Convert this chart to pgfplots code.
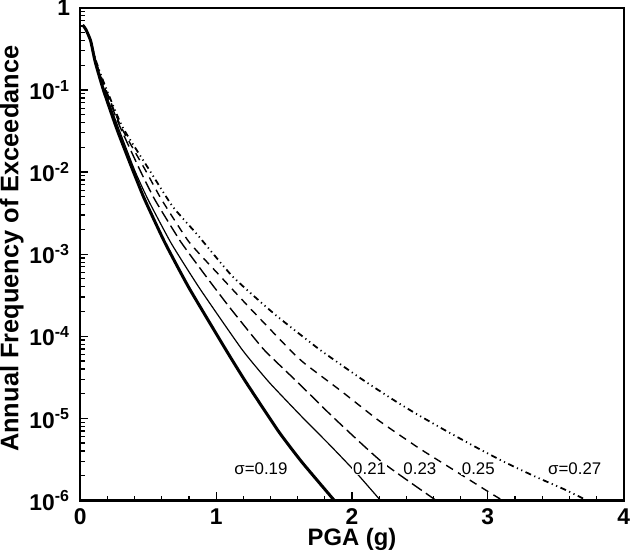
\documentclass[border=0pt]{standalone}
\usepackage{pgfplots}
\pgfplotsset{compat=1.18}
\usepackage{fontspec}
\setmainfont{Liberation Sans}
\begin{document}
\begin{tikzpicture}
\begin{axis}[
  scale only axis,
  width=273bp, height=247.5bp,
  ymode=log,
  xmin=0, xmax=4, ymin=1e-6, ymax=1,
  xtick={0,1,2,3,4},
  minor x tick num=4,
  ytick={1e-6,1e-5,1e-4,1e-3,1e-2,1e-1,1},
  yticklabels={10\textsuperscript{-6},10\textsuperscript{-5},10\textsuperscript{-4},10\textsuperscript{-3},10\textsuperscript{-2},10\textsuperscript{-1},1},
  xticklabels={0,1,2,3,4},
  tick pos=left,
  tick align=inside,
  major tick length=4bp,
  minor tick length=2.2bp,
  axis line style={line width=1.1bp},
  every tick/.style={black, line width=0.6bp},
  ticklabel style={font=\fontsize{11.5}{13}\selectfont\bfseries, inner sep=0pt},
  yticklabel style={xshift=-5bp},
  xticklabel style={yshift=-4bp},
  xlabel={PGA (g)},
  ylabel={Annual Frequency of Exceedance},
  xlabel style={font=\fontsize{12}{14}\selectfont\bfseries, inner sep=0pt, at={(axis description cs:0.5,-0.079)}, anchor=center},
  ylabel style={font=\fontsize{12.8}{14}\selectfont\bfseries, inner sep=0pt, at={(axis description cs:-0.126,0.511)}, anchor=center},
  clip=true,
]
% sigma = 0.19 (thick solid)
\addplot[black, line width=1.5bp, smooth, tension=0.3] coordinates {
(0.018,0.617) (0.04,0.550) (0.076,0.398) (0.11,0.219) (0.17,0.1)
(0.27,0.0331) (0.38,0.0112) (0.47,4.79e-3) (0.62,1.41e-3) (0.80,3.89e-4)
(1.07,6.92e-5) (1.22,2.75e-5) (1.46,6.92e-6) (1.63,2.95e-6) (1.87,1e-6)
};
% sigma = 0.21 (thin solid)
\addplot[black, line width=0.6bp, smooth, tension=0.3] coordinates {
(0.018,0.617) (0.04,0.550) (0.076,0.398) (0.11,0.224) (0.175,0.102)
(0.28,0.0347) (0.40,0.0105) (0.50,4.57e-3) (0.67,1.35e-3) (0.88,3.80e-4)
(1.19,6.92e-5) (1.39,2.75e-5) (1.63,1.05e-5) (1.84,4.68e-6) (2.03,2.19e-6) (2.21,1e-6)
};
% sigma = 0.23 (long dash)
\addplot[black, line width=0.7bp, smooth, tension=0.3, dash pattern=on 6bp off 2.5bp] coordinates {
(0.018,0.617) (0.04,0.550) (0.076,0.398) (0.11,0.229) (0.18,0.105)
(0.29,0.0363) (0.44,0.0105) (0.55,4.57e-3) (0.74,1.41e-3) (0.93,5.25e-4)
(1.10,2.24e-4) (1.35,6.92e-5) (1.60,2.75e-5) (1.87,1e-5) (2.22,2.95e-6) (2.62,1e-6)
};
% sigma = 0.25 (dash)
\addplot[black, line width=0.7bp, smooth, tension=0.3, dash pattern=on 4bp off 3bp] coordinates {
(0.018,0.617) (0.04,0.550) (0.076,0.398) (0.11,0.234) (0.18,0.110)
(0.30,0.0355) (0.48,0.0105) (0.60,4.57e-3) (0.80,1.41e-3) (1.02,5.62e-4)
(1.25,2.19e-4) (1.54,6.92e-5) (1.65,4.68e-5) (1.93,2.09e-5) (2.20,9.33e-6)
(2.49,4.37e-6) (2.76,2.29e-6) (3.03,1.20e-6) (3.11,1e-6)
};
% sigma = 0.27 (dash dot dot)
\addplot[black, line width=0.9bp, smooth, tension=0.3, dash pattern=on 3bp off 1.8bp on 0.6bp off 1.8bp on 0.6bp off 1.8bp] coordinates {
(0.018,0.617) (0.04,0.550) (0.076,0.398) (0.11,0.240) (0.18,0.115)
(0.31,0.0355) (0.51,0.0105) (0.68,3.80e-3) (0.86,1.74e-3) (1.12,5.37e-4)
(1.43,1.86e-4) (1.76,6.92e-5) (2.07,3.02e-5) (2.31,1.66e-5) (2.46,1.17e-5)
(2.68,7.24e-6) (2.90,4.57e-6) (3.12,2.95e-6) (3.35,1.95e-6) (3.57,1.35e-6) (3.73,1e-6)
};
\begin{scope}[every node/.style={font=\fontsize{8.5}{10}\selectfont, fill=white, inner sep=0.5bp}]
\node at (axis cs:1.33,2.45e-6) {σ=0.19};
\node at (axis cs:2.13,2.45e-6) {0.21};
\node at (axis cs:2.50,2.45e-6) {0.23};
\node at (axis cs:2.93,2.45e-6) {0.25};
\node at (axis cs:3.64,2.45e-6) {σ=0.27};
\end{scope}
\end{axis}
\end{tikzpicture}
\end{document}
